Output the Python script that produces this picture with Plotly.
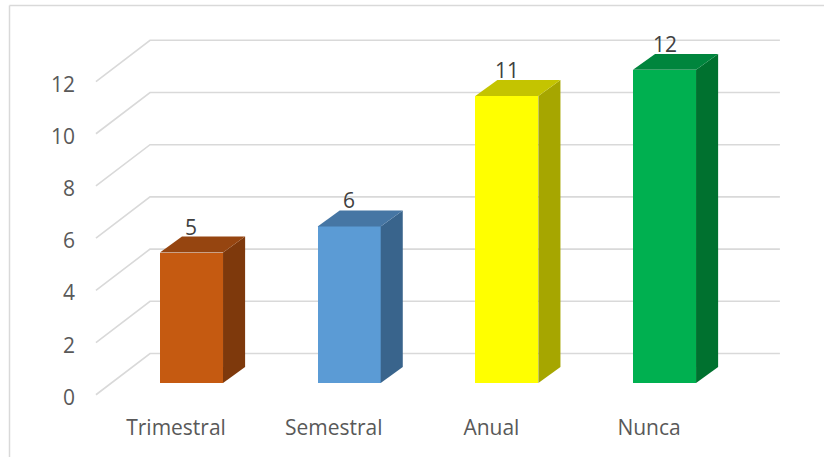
import plotly.graph_objects as go

# Frequency of responses per category
categories = ["Trimestral", "Semestral", "Anual", "Nunca"]
values = [5, 6, 11, 12]
y_ticks = [0, 2, 4, 6, 8, 10, 12]

# Face colours for each bar: front, top, side
front_colors = ["#C55A11", "#5B9BD5", "#FFFF00", "#00B050"]
top_colors = ["#964510", "#4676A4", "#C4C400", "#00853D"]
side_colors = ["#7E390C", "#39648C", "#A6A600", "#00712F"]

# Pseudo-3D geometry (in axis units)
BAR_W = 0.40      # bar width in category units
DEPTH_X = 0.14    # horizontal depth offset
DEPTH_Y = 0.61    # vertical depth offset
FRONT_OFF = -0.45 # front edge of the wall grid relative to value
BACK_OFF = 1.13   # back wall grid relative to value
LABEL_OFF = -0.55 # y-axis label position relative to value
GRID_X_FRONT = -0.606
GRID_X_BACK = -0.263
GRID_X_END = 3.732

GRID_COLOR = "#D9D9D9"
TEXT_COLOR = "#595959"
FONT = "Open Sans"
FONT_SIZE = 21

fig = go.Figure()

# Wall gridlines (behind the bars): diagonal side wall segment + back wall line
for v in y_ticks:
    fig.add_shape(
        type="path", xref="x", yref="y", layer="below",
        path=(f"M {GRID_X_FRONT},{v + FRONT_OFF} "
              f"L {GRID_X_BACK},{v + BACK_OFF} "
              f"L {GRID_X_END},{v + BACK_OFF}"),
        line=dict(color=GRID_COLOR, width=1.6),
    )

xs = list(range(len(categories)))

# Front faces
fig.add_trace(go.Bar(
    x=xs,
    y=values,
    width=BAR_W,
    marker=dict(color=front_colors, line=dict(width=0)),
    showlegend=False,
    hoverinfo="skip",
))

# Side and top faces
for i, v in enumerate(values):
    xl = i - BAR_W / 2
    xr = i + BAR_W / 2
    fig.add_trace(go.Scatter(
        x=[xr, xr + DEPTH_X, xr + DEPTH_X, xr, xr],
        y=[0, DEPTH_Y, v + DEPTH_Y, v, 0],
        mode="lines",
        fill="toself",
        fillcolor=side_colors[i],
        line=dict(width=0, color=side_colors[i]),
        hoverinfo="skip",
        showlegend=False,
    ))
    fig.add_trace(go.Scatter(
        x=[xl, xr, xr + DEPTH_X, xl + DEPTH_X, xl],
        y=[v, v, v + DEPTH_Y, v + DEPTH_Y, v],
        mode="lines",
        fill="toself",
        fillcolor=top_colors[i],
        line=dict(width=0, color=top_colors[i]),
        hoverinfo="skip",
        showlegend=False,
    ))
    # Value label above each bar
    fig.add_annotation(
        x=i, y=v + DEPTH_Y, text=str(v),
        showarrow=False, yanchor="bottom", yshift=-6,
        font=dict(family=FONT, size=FONT_SIZE, color="#404040"),
    )

# Chart border (left and top edges)
W, H = 824, 457
L, R, T, B = 90, 34, 20, 57
pw, ph = W - L - R, H - T - B
def px_to_paper_x(px):
    return (px - L) / pw
def px_to_paper_y(py):
    return (H - B - py) / ph
fig.add_shape(type="line", xref="paper", yref="paper",
              x0=px_to_paper_x(9.5), x1=px_to_paper_x(9.5),
              y0=px_to_paper_y(5.5), y1=px_to_paper_y(470),
              line=dict(color="#D9D9D9", width=1.5))
fig.add_shape(type="line", xref="paper", yref="paper",
              x0=px_to_paper_x(9.5), x1=px_to_paper_x(840),
              y0=px_to_paper_y(5.5), y1=px_to_paper_y(5.5),
              line=dict(color="#D9D9D9", width=1.5))

fig.update_layout(
    width=W, height=H,
    margin=dict(l=L, r=R, t=T, b=B, pad=0),
    paper_bgcolor="white",
    plot_bgcolor="white",
    font=dict(family=FONT, size=FONT_SIZE, color=TEXT_COLOR),
    bargap=0,
    xaxis=dict(
        type="linear",
        range=[-0.6437, 3.7959],
        tickvals=[i - 0.098 for i in xs],
        ticktext=categories,
        showgrid=False, zeroline=False, showline=False,
        ticks="", ticklabelstandoff=13,
        tickfont=dict(family=FONT, size=FONT_SIZE, color=TEXT_COLOR),
        fixedrange=True,
    ),
    yaxis=dict(
        range=[-0.6513, 13.908],
        tickvals=[v + LABEL_OFF for v in y_ticks],
        ticktext=[str(v) for v in y_ticks],
        showgrid=False, zeroline=False, showline=False,
        ticks="", ticklabelstandoff=14,
        tickfont=dict(family=FONT, size=FONT_SIZE, color=TEXT_COLOR),
        fixedrange=True,
    ),
)

fig.write_html("out.html")
